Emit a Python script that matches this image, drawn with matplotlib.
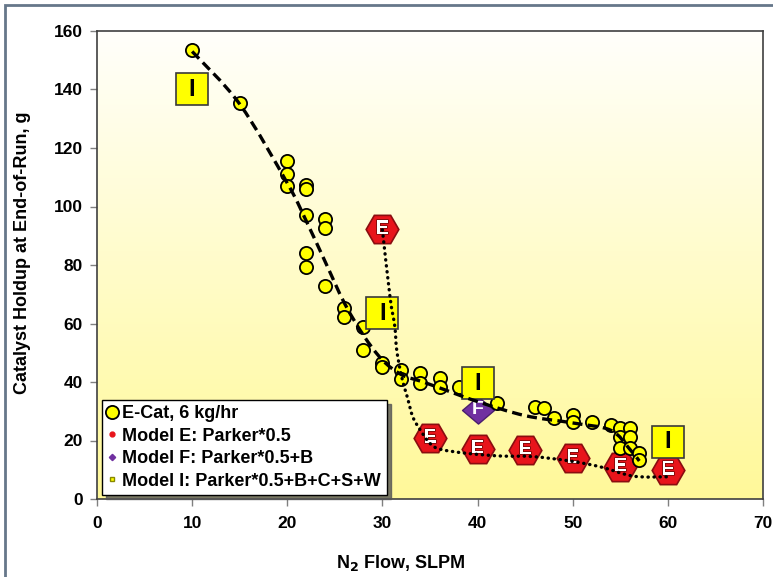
import numpy as np
import matplotlib
matplotlib.use("Agg")
import matplotlib.pyplot as plt
from matplotlib.path import Path
from matplotlib.patches import PathPatch, Rectangle
from matplotlib.lines import Line2D
import matplotlib.patheffects as pe

plt.rcParams['font.family'] = ['Liberation Sans', 'DejaVu Sans']
plt.rcParams['font.weight'] = 'bold'

# ---------------- data ----------------
ecat_x = [10, 15, 20, 20, 20, 22, 22, 22, 22, 22, 24, 24, 24, 26, 26, 28, 28,
          30, 30, 32, 32, 34, 34, 36, 36, 38, 42, 46, 47, 48, 50, 50, 52, 54,
          55, 56, 55, 56, 55, 56, 57, 57]
ecat_y = [153.5, 135.4, 115.6, 111.1, 107.0, 107.4, 106.0, 97.1, 84.1, 79.3,
          95.7, 92.6, 72.8, 65.3, 62.2, 58.8, 50.9, 46.4, 45.0, 44.0, 41.0,
          43.0, 39.6, 41.4, 38.3, 38.3, 32.8, 31.5, 31.1, 27.7, 28.7, 26.3,
          26.3, 25.3, 24.3, 24.3, 21.2, 21.2, 17.4, 17.4, 15.7, 13.3]

# dashed trend through E-Cat data
trend_x = [10, 15, 20, 22, 24, 26, 28, 30, 32, 34, 36, 40, 45, 50, 54, 56, 57]
trend_y = [153, 135, 108, 95, 81, 67, 56, 47.5, 42.5, 40.3, 38, 33.3, 28.5,
           26, 23.5, 17, 13]

# Model E markers and its dotted curve
model_e_x = [30, 35, 40, 45, 50, 55, 60]
model_e_y = [92.2, 20.8, 17.1, 16.8, 13.9, 11.0, 9.9]
model_e_curve_x = [30, 30.8, 31.3, 31.5, 32.0, 32.6, 33.2, 34.0, 35.0, 36.1,
                   38.9, 42.4, 45.8, 49.7, 52.9, 56.4, 60]
model_e_curve_y = [92, 69, 59, 51, 42, 35, 28, 23.5, 19, 17, 15.6, 14.7, 14.5,
                   13, 11, 7.8, 7.6]

# Model F
model_f_x = [40]
model_f_y = [30.5]

# Model I
model_i_x = [10, 30, 40, 60]
model_i_y = [140, 63.5, 39.5, 19.5]

x_ticks = [0, 10, 20, 30, 40, 50, 60, 70]
y_ticks = [0, 20, 40, 60, 80, 100, 120, 140, 160]

series_labels = ["E-Cat, 6 kg/hr", "Model E: Parker*0.5",
                 "Model F: Parker*0.5+B", "Model I: Parker*0.5+B+C+S+W"]


def smooth_path(xs, ys, tension=1.0 / 6.0):
    """Catmull-Rom style smoothing expressed as cubic Bezier path."""
    pts = np.column_stack([xs, ys]).astype(float)
    n = len(pts)
    verts = [pts[0]]
    codes = [Path.MOVETO]
    for i in range(n - 1):
        p0 = pts[i - 1] if i > 0 else pts[i]
        p1 = pts[i]
        p2 = pts[i + 1]
        p3 = pts[i + 2] if i + 2 < n else pts[i + 1]
        c1 = p1 + (p2 - p0) * tension
        c2 = p2 - (p3 - p1) * tension
        verts += [c1, c2, p2]
        codes += [Path.CURVE4] * 3
    return Path(verts, codes)


W, H = 773, 577
fig = plt.figure(figsize=(W / 100, H / 100), dpi=100)
fig.patch.set_facecolor('white')

ax_l, ax_r, ax_t, ax_b = 97, 763, 31, 499
ax = fig.add_axes([ax_l / W, (H - ax_b) / H, (ax_r - ax_l) / W, (ax_b - ax_t) / H])

# gradient background
top = np.array([1.0, 1.0, 0.985])
bot = np.array([1.0, 0.975, 0.60])
t = np.linspace(0, 1, 256)[:, None]
grad = (top[None, :] * (1 - t) + bot[None, :] * t)[:, None, :]
ax.imshow(grad, extent=[0, 1, 0, 1], transform=ax.transAxes, aspect='auto',
          zorder=0, interpolation='bilinear')

# lines
dash = PathPatch(smooth_path(trend_x, trend_y), fill=False, ec='black', lw=2.4,
                 ls=(0, (3, 1.6)), zorder=8, capstyle='butt')
ax.add_patch(dash)
dots = PathPatch(smooth_path(model_e_curve_x, model_e_curve_y), fill=False,
                 ec='black', lw=2.4, ls=(0, (0.1, 1.7)), zorder=8,
                 capstyle='round')
ax.add_patch(dots)

# Model E hexagons
ax.plot(model_e_x, model_e_y, ls='none', marker='H', ms=23.5, mfc='#e8141b',
        mec='#8a0d10', mew=1.2, zorder=3)
for x, y in zip(model_e_x, model_e_y):
    ax.text(x, y, 'E', ha='center', va='center', color='white', fontsize=14,
            fontweight='bold', zorder=3.5,
            path_effects=[pe.withStroke(linewidth=1.2, foreground='#7a0a0a')])

# Model F diamond
diamond = Path([(-1, 0), (0, 0.85), (1, 0), (0, -0.85), (-1, 0)],
               [Path.MOVETO, Path.LINETO, Path.LINETO, Path.LINETO, Path.CLOSEPOLY])
ax.plot(model_f_x, model_f_y, ls='none', marker=diamond, ms=23, mfc='#7030a0',
        mec='#4a1f6e', mew=1.0, zorder=3)
for x, y in zip(model_f_x, model_f_y):
    ax.text(x, y, 'F', ha='center', va='center', color='white', fontsize=14,
            fontweight='bold', zorder=3.5)

# E-Cat circles
ax.plot(ecat_x, ecat_y, ls='none', marker='o', ms=9.5, mfc='#ffff00',
        mec='black', mew=1.3, zorder=5)

# Model I squares
ax.plot(model_i_x, model_i_y, ls='none', marker='s', ms=23.5, mfc='#ffff00',
        mec='#3a3a3a', mew=1.2, zorder=6)
for x, y in zip(model_i_x, model_i_y):
    ax.text(x, y, 'I', ha='center', va='center', color='black', fontsize=17,
            fontweight='bold', zorder=6.5)

# axes
ax.set_xlim(0, 70)
ax.set_ylim(0, 160)
ax.set_xticks(x_ticks)
ax.set_yticks(y_ticks)
ax.tick_params(direction='out', length=5, width=1, color='#808080',
               labelsize=12.5, pad=5)
ax.tick_params(axis='x', pad=7)
for s in ax.spines.values():
    s.set_color('#404040')
    s.set_linewidth(1.2)
for lab in ax.get_xticklabels() + ax.get_yticklabels():
    lab.set_fontweight('bold')

ax.set_xlabel('N$_\\mathbf{2}$ Flow, SLPM', fontsize=13, fontweight='bold')
ax.set_ylabel('Catalyst Holdup at End-of-Run, g', fontsize=13, fontweight='bold')
ax.xaxis.label.set_va('center')
ax.yaxis.label.set_va('center')
ax.xaxis.set_label_coords((401 - ax_l) / (ax_r - ax_l), (ax_b - 563) / (ax_b - ax_t))
ax.yaxis.set_label_coords((23 - ax_l) / (ax_r - ax_l), (ax_b - 253) / (ax_b - ax_t))

# legend
handles = [
    Line2D([], [], ls='none', marker='o', ms=9.5, mfc='#ffff00', mec='black', mew=1.3),
    Line2D([], [], ls='none', marker='o', ms=3.5, mfc='#e8141b', mec='#e8141b'),
    Line2D([], [], ls='none', marker='D', ms=3.2, mfc='#7030a0', mec='#7030a0'),
    Line2D([], [], ls='none', marker='s', ms=3.5, mfc='#ffff00', mec='#888800'),
]
leg = ax.legend(handles, series_labels, loc='lower left',
                bbox_to_anchor=(0.007, 0.0085), borderaxespad=0,
                prop={'size': 13, 'weight': 'bold'}, handlelength=0.6,
                handletextpad=0.25, labelspacing=0.3, borderpad=0.3,
                fancybox=False, framealpha=1, edgecolor='black',
                shadow={'ox': 3, 'oy': -3, 'color': '#555555', 'alpha': 0.8})
leg.get_frame().set_linewidth(1.0)
leg.set_zorder(20)

# outer frame
fig.patches.append(Rectangle((5 / W, -0.05), 1.2, (H - 5) / H + 0.05,
                             transform=fig.transFigure, fill=False,
                             ec='#66778a', lw=2.0, zorder=0))

fig.savefig('out.png', dpi=100)
